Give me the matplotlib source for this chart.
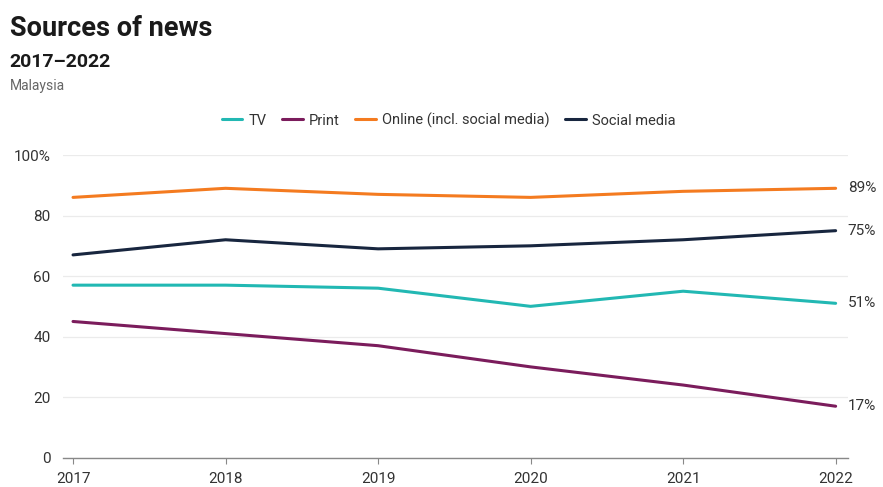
import matplotlib
matplotlib.use("Agg")
import matplotlib.pyplot as plt

plt.rcParams['font.family'] = ['Roboto', 'DejaVu Sans']

years = [2017, 2018, 2019, 2020, 2021, 2022]
tv = [57, 57, 56, 50, 55, 51]
print_ = [45, 41, 37, 30, 24, 17]
online = [86, 89, 87, 86, 88, 89]
social = [67, 72, 69, 70, 72, 75]

series = [
    ("TV", tv, "#22b8b3"),
    ("Print", print_, "#7b1c5c"),
    ("Online (incl. social media)", online, "#f47b20"),
    ("Social media", social, "#18263f"),
]

fig = plt.figure(figsize=(8.83, 4.87), dpi=100)
ax = fig.add_axes([0.0713, 0.0602, 0.8887, 0.6215])

for name, vals, col in series:
    ax.plot(years, vals, color=col, lw=2.2, label=name, solid_capstyle="round")
    ax.text(years[-1] + 0.08, vals[-1], f"{vals[-1]}%", va="center", ha="left",
            fontsize=11, color="#333333")

ax.set_xlim(2016.934, 2022.079)
ax.set_ylim(0, 100)
ax.set_yticks([0, 20, 40, 60, 80, 100])
ax.set_yticklabels(["0", "20", "40", "60", "80", "100%"])
ax.set_xticks(years)
ax.set_xticklabels([str(y) for y in years])
ax.grid(axis="y", color="#ebebeb", lw=0.9)
ax.set_axisbelow(True)
for s in ["top", "right", "left"]:
    ax.spines[s].set_visible(False)
ax.spines["bottom"].set_color("#888888")
ax.spines["bottom"].set_linewidth(1.0)
ax.tick_params(axis="y", length=0, pad=9, labelsize=11, labelcolor="#333333")
ax.tick_params(axis="x", length=4, color="#888888", pad=6, labelsize=11, labelcolor="#333333")

leg = fig.legend(loc="center", bbox_to_anchor=(0.508, 0.753), ncol=4, frameon=False,
                 fontsize=10.5, handlelength=1.4, handletextpad=0.4, columnspacing=1.1,
                 labelcolor="#333333")
for h in leg.get_lines():
    h.set_linewidth(2.2)

fig.text(0.011, 0.942, "Sources of news", fontsize=19.5, fontweight="bold", color="#1a1a1a", va="center")
fig.text(0.011, 0.873, "2017–2022", fontsize=14, fontweight="bold", color="#1a1a1a", va="center")
fig.text(0.011, 0.823, "Malaysia", fontsize=10, color="#666666", va="center")

fig.savefig("out.png", dpi=100)
